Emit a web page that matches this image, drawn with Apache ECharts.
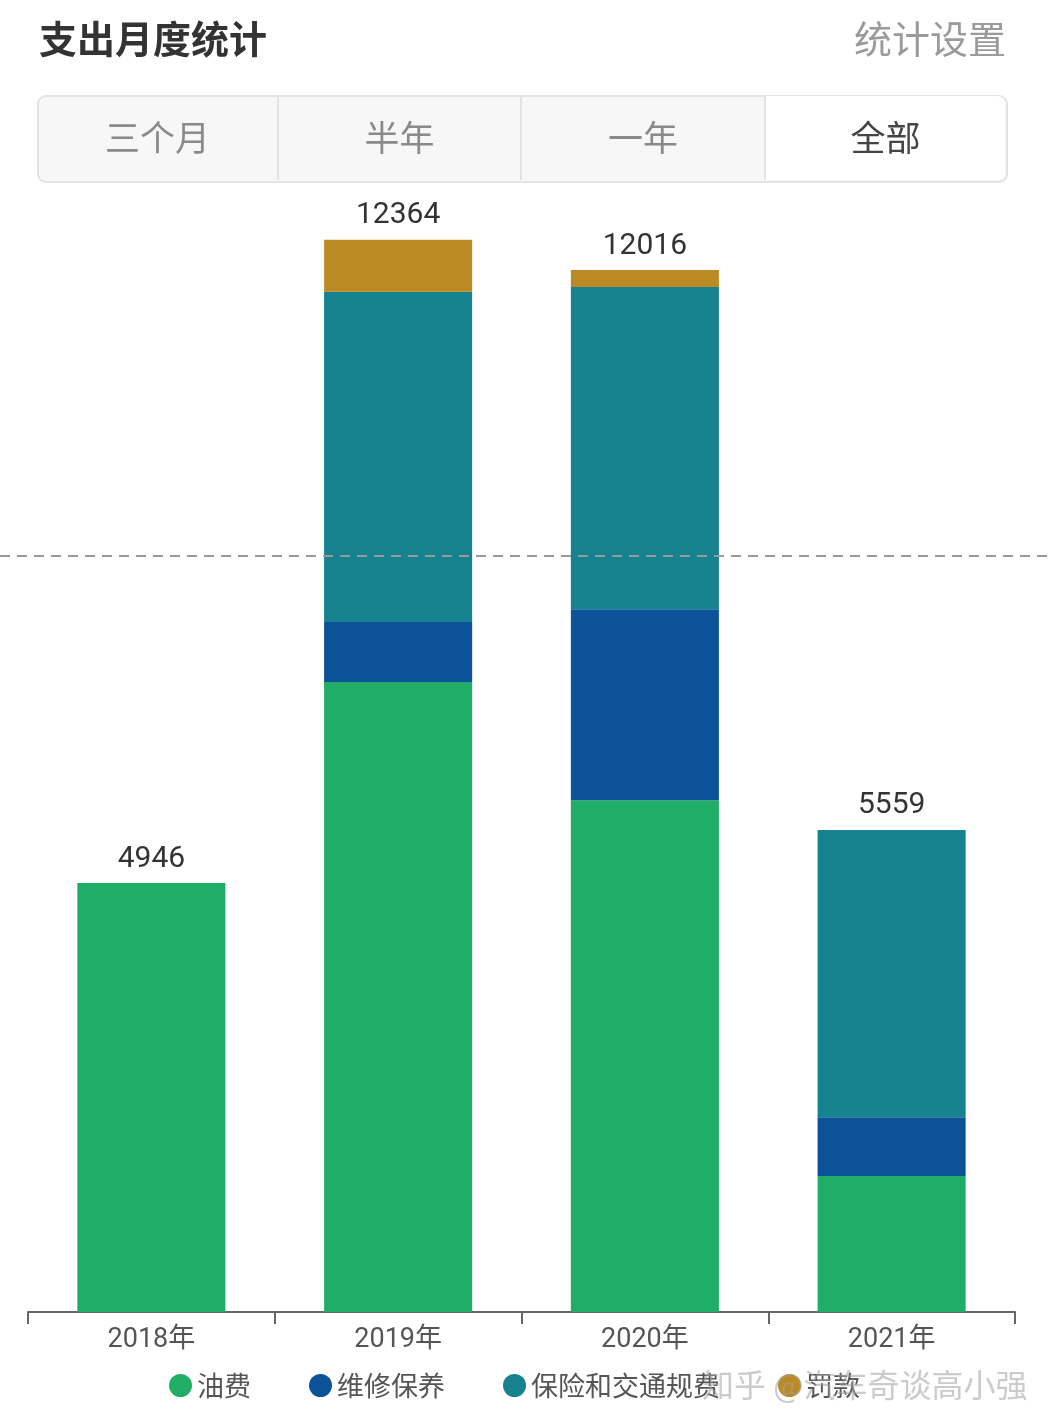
<!DOCTYPE html>
<html>
<head>
<meta charset="utf-8">
<script src="https://cdn.jsdelivr.net/npm/echarts@6/dist/echarts.min.js"></script>
<style>
html,body{margin:0;padding:0;background:#fff;}
#c{width:1050px;height:1426px;}
</style>
</head>
<body>
<div id="c"></div>
<script>
const categories = ['2018年', '2019年', '2020年', '2021年'];
const fuel = [4946, 7265, 5903, 1568];
const maintenance = [0, 691, 2202, 677];
const insurance = [0, 3811, 3716, 3314];
const fines = [0, 597, 195, 0];
const totals = [4946, 12364, 12016, 5559];
const seriesNames = ['油费', '维修保养', '保险和交通规费', '罚款'];
const tabs = ['三个月', '半年', '一年', '全部'];

const FONT = 'Roboto, "Noto Sans CJK SC", sans-serif';
const CJK = '"Noto Sans CJK SC", sans-serif';
const colors = ['#20AE66', '#0C5298', '#168290', '#BC8A22'];

const chart = echarts.init(document.getElementById('c'), null, {renderer: 'canvas'});

const tabGraphics = [];
const tabLeft = 37, tabTop = 95, tabW = 969, tabH = 86;
const bounds = [37, 278, 521, 765, 1006];
tabGraphics.push({
  type: 'rect', left: tabLeft, top: tabTop, z: 0,
  shape: {width: tabW, height: tabH, r: 8},
  style: {fill: '#f7f7f7', stroke: '#e3e3e3', lineWidth: 2}
});
tabGraphics.push({
  type: 'rect', left: 766, top: 96, z: 1,
  shape: {width: 239, height: 84, r: [0, 7, 7, 0]},
  style: {fill: '#ffffff'}
});
for (let i = 1; i < 4; i++) {
  tabGraphics.push({
    type: 'line', z: 2,
    shape: {x1: bounds[i], y1: 96, x2: bounds[i], y2: 180},
    style: {stroke: '#e3e3e3', lineWidth: 2}
  });
}
tabs.forEach((t, i) => {
  tabGraphics.push({
    type: 'text', z: 3,
    x: (bounds[i] + bounds[i + 1]) / 2, y: 138,
    style: {
      text: t, fill: i === 3 ? '#444' : '#8a8a8a',
      font: '400 35px ' + CJK, align: 'center', verticalAlign: 'middle'
    }
  });
});

const option = {
  backgroundColor: '#ffffff',
  animation: false,
  color: colors,
  textStyle: {fontFamily: FONT},
  legend: {
    data: seriesNames,
    left: 164, bottom: 22,
    icon: 'circle', itemWidth: 23, itemHeight: 23, itemGap: 58,
    textStyle: {fontSize: 27, color: '#555', fontFamily: CJK}
  },
  grid: [
    {left: 28, right: 35, top: 98, bottom: 114},
    {left: 0, right: 0, top: 98, bottom: 114}
  ],
  xAxis: [
    {
      type: 'category', data: categories, gridIndex: 0,
      axisLine: {lineStyle: {color: '#666', width: 2}},
      axisTick: {show: true, length: 12, lineStyle: {color: '#666', width: 2}},
      axisLabel: {fontSize: 27, color: '#555', margin: 15, fontFamily: FONT}
    },
    {type: 'category', data: categories, gridIndex: 1, show: false}
  ],
  yAxis: [
    {type: 'value', gridIndex: 0, min: 0, max: 14000, show: false, splitLine: {show: false}},
    {type: 'value', gridIndex: 1, min: 0, max: 14000, show: false, splitLine: {show: false}}
  ],
  series: [
    {name: seriesNames[0], type: 'bar', stack: 'a', data: fuel, barWidth: '60%'},
    {name: seriesNames[1], type: 'bar', stack: 'a', data: maintenance, barWidth: '60%'},
    {name: seriesNames[2], type: 'bar', stack: 'a', data: insurance, barWidth: '60%'},
    {name: seriesNames[3], type: 'bar', stack: 'a', data: fines, barWidth: '60%'},
    {
      name: 'total', type: 'bar', stack: 'a', barWidth: '60%',
      data: totals.map(() => 0),
      itemStyle: {color: 'transparent'},
      label: {
        show: true, position: 'top', distance: 9,
        fontSize: 30, color: '#333', fontFamily: FONT,
        formatter: p => String(totals[p.dataIndex])
      },
      silent: true
    },
    {
      name: 'avg', type: 'bar', xAxisIndex: 1, yAxisIndex: 1,
      data: totals, itemStyle: {color: 'transparent'}, silent: true,
      markLine: {
        silent: true, symbol: 'none', label: {show: false},
        lineStyle: {type: [10, 7], color: '#999', width: 2},
        data: [{type: 'average'}]
      }
    }
  ],
  graphic: [
    {
      type: 'text', left: 39, top: 20,
      style: {text: '支出月度统计', fill: '#333', font: 'bold 38px ' + CJK}
    },
    {
      type: 'text', right: 44, top: 20,
      style: {text: '统计设置', fill: '#9a9a9a', font: '400 38px ' + CJK}
    },
    ...tabGraphics,
    {
      type: 'text', left: 702, top: 1369, z: 100,
      style: {text: '知乎 @汽车奇谈高小强', fill: 'rgba(160,160,160,0.55)', font: '400 32px ' + CJK}
    }
  ]
};
chart.setOption(option);
</script>
</body>
</html>
